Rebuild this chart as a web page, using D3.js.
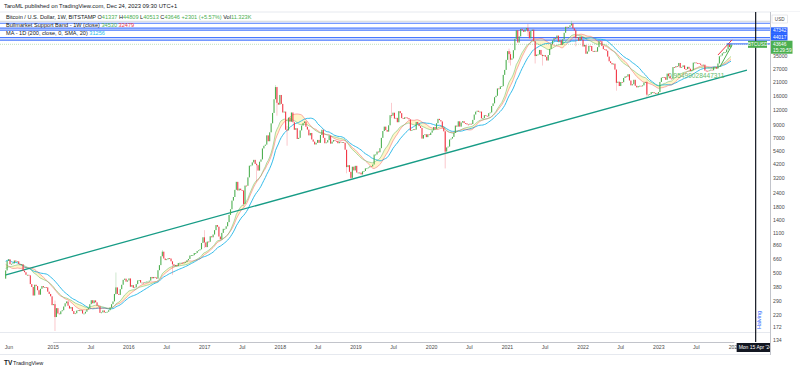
<!DOCTYPE html>
<html>
<head>
<meta charset="utf-8">
<script src="https://cdn.jsdelivr.net/npm/d3@7"></script>
<style>
  body { margin: 0; background: #fff; }
  text { font-family: "Liberation Sans", Arial, sans-serif; }
</style>
</head>
<body>
<div id="chart"></div>
<script>
// Weekly BITSTAMP BTCUSD closes (week start = Monday)
var firstWeek = "2014-05-19";
// weeks before the first drawn candle, only used to warm up the averages
var warmupCloses = [185, 205, 330, 440, 800, 1000, 850, 690, 620, 740, 880, 850, 830, 800, 810,
    680, 630, 600, 560, 630, 630, 580, 470, 450, 450, 500, 460, 435, 440, 445];
var closes2014 = [523, 630, 650, 590, 595, 600, 635, 620, 625, 595, 585, 590, 520, 505, 480, 480,
    475, 400, 378, 320, 395, 385, 355, 325, 365, 385, 375, 378, 375, 345, 330, 315];
var closes2015 = [265, 270, 210, 250, 225, 222, 235, 240, 258, 275, 285, 262, 248, 255, 236, 223,
    226, 238, 240, 236, 240, 225, 225, 233, 244, 251, 270, 292, 275, 291, 280, 262, 260, 228, 230,
    239, 230, 231, 233, 240, 253, 270, 285, 330, 375, 330, 324, 362, 395, 435, 445, 420];
var closes2016 = [430, 447, 380, 392, 372, 375, 400, 430, 433, 412, 412, 410, 416, 420, 420, 428,
    460, 448, 460, 455, 445, 525, 580, 690, 755, 660, 640, 650, 665, 660, 625, 590, 570, 582, 570,
    605, 607, 608, 600, 612, 615, 638, 655, 700, 705, 705, 735, 735, 765, 775, 790, 895];
var closes2017 = [1000, 905, 825, 920, 915, 1020, 1000, 1055, 1150, 1270, 1230, 1015, 960, 1090,
    1180, 1180, 1240, 1345, 1550, 1730, 2050, 2200, 2530, 2960, 2500, 2590, 2520, 2500, 1920, 2750,
    2740, 3230, 4060, 4080, 4330, 4550, 4200, 4100, 3690, 4390, 4590, 5690, 5990, 6130, 7350, 6550,
    7800, 9300, 11400, 14900, 18900, 13900];
var closes2018 = [13400, 16200, 13600, 11500, 11700, 8200, 8100, 10400, 9600, 11500, 9500, 8200,
    8450, 6850, 7000, 8100, 8900, 9350, 9650, 8700, 8230, 7350, 7700, 6780, 6500, 6150, 6350, 6720,
    6350, 7400, 8200, 7000, 6300, 6400, 6700, 7300, 6250, 6500, 6700, 6600, 6580, 6300, 6500, 6450,
    6450, 6350, 5550, 3950, 4100, 3600, 3200, 3980];
var closes2019 = [3700, 4050, 3550, 3550, 3540, 3420, 3630, 3660, 3850, 3860, 3920, 4010, 4000,
    4150, 5050, 5050, 5350, 5280, 5720, 7000, 8000, 8720, 8150, 7900, 8950, 10900, 10800, 11450,
    10200, 10350, 9500, 11800, 11350, 10300, 10150, 10450, 10400, 10300, 10050, 8050, 8150, 8280,
    8220, 9550, 9200, 8800, 8500, 6900, 7400, 7500, 7100, 7500];
var closes2020 = [7400, 7750, 8100, 8650, 8350, 9320, 10150, 9900, 9650, 8550, 7950, 5350, 5800,
    5900, 6780, 6900, 7130, 7700, 8900, 8720, 9680, 8720, 9450, 9700, 9350, 9300, 9100, 9070, 9230,
    9170, 9950, 11050, 11680, 11900, 11650, 11700, 10250, 10300, 10900, 10770, 10650, 11350, 11500,
    13050, 13750, 15500, 15950, 18400, 18200, 19150, 19250, 24000, 26450];
var closes2021 = [32200, 38200, 36000, 32300, 33100, 38900, 48600, 57500, 45200, 51000, 59000,
    57400, 55800, 58200, 60000, 56200, 49100, 56700, 58200, 46500, 34700, 35700, 35800, 39100, 35500,
    34700, 35300, 34200, 31800, 35400, 39900, 43800, 47000, 49300, 48800, 51800, 46000, 47300, 43200,
    48200, 54700, 61500, 61000, 61300, 63300, 65500, 59700, 57200, 49400, 50100, 46700, 50800];
var closes2022 = [47700, 41800, 43100, 36300, 37900, 42400, 42200, 38300, 37700, 38400, 37800,
    41300, 46800, 46400, 42200, 39700, 39500, 38500, 34300, 31300, 30300, 29450, 29900, 26600, 20550,
    21000, 19300, 20850, 20800, 22600, 23300, 23200, 24300, 21500, 19550, 19990, 21800, 19400, 18800,
    19300, 19400, 19200, 19550, 20600, 20900, 16300, 16300, 16450, 17100, 17100, 16750, 16850];
var closes2023 = [16600, 17150, 20900, 22700, 23000, 22900, 21800, 24600, 23500, 22350, 22200,
    27950, 27750, 28450, 28350, 30300, 27600, 28050, 28900, 26900, 26850, 28100, 27100, 25900, 26350,
    30500, 30600, 30300, 30250, 29900, 29250, 29050, 29300, 26100, 26000, 25850, 26200, 26550, 26250,
    27950, 27950, 27150, 30000, 34550, 35050, 36600, 37400, 37450, 39450, 43800, 41337, 43646];

// the few weeks with a visible wick: [week, high, low]
var wicks = [
    ["2015-01-12", 290, 160], ["2015-11-02", 502, 325], ["2016-06-13", 780, 690],
    ["2016-08-01", 615, 480], ["2017-01-02", 1150, 810], ["2017-07-10", 2400, 1830],
    ["2017-09-11", 4300, 2970], ["2017-12-11", 19666, 15800], ["2017-12-18", 19000, 10800],
    ["2018-02-05", 8800, 6000], ["2018-11-19", 5100, 3500], ["2018-12-10", 3600, 3120],
    ["2019-06-24", 13880, 10300], ["2020-03-09", 8000, 3850], ["2021-01-11", 40100, 30400],
    ["2021-01-18", 37800, 28850], ["2021-04-12", 64900, 51300], ["2021-05-17", 45000, 30000],
    ["2021-06-21", 35700, 28800], ["2021-11-08", 69000, 62300], ["2021-11-29", 59000, 42000],
    ["2022-06-13", 26800, 17600], ["2022-11-07", 21450, 15500], ["2023-12-18", 44809, 40513]
];

// drawn horizontal levels, trend line and halving marker
var levelPrices = [65900, 60000, 57700, 49700, 47342];
var athPrice = 68500;
var shortLevel = { from: "2023-11-27", price: 44017 };
var trendStart = { date: "2014-05-16", price: 478 };
var trendEnd = { date: "2024-03-04", price: 26400 };
var trendText = "0.95499028447311";
var redRay = [["2023-10-16", 35400], ["2023-12-23", 47600]];
var greenRay = [["2023-10-25", 28000], ["2023-12-23", 43000]];
var halvingDate = "2024-04-15";

// axis ticks
var priceTicks = [35000, 27000, 21000, 16000, 12000, 9000, 7000, 5400, 4200, 3200, 2400, 1800,
    1400, 1100, 860, 660, 500, 380, 290, 220, 172, 134];
var timeTickDates = ["2014-06-01", "2015-01-01", "2015-07-01", "2016-01-01", "2016-07-01",
    "2017-01-01", "2017-07-01", "2018-01-01", "2018-07-01", "2019-01-01", "2019-07-01",
    "2020-01-01", "2020-07-01", "2021-01-01", "2021-07-01", "2022-01-01", "2022-07-01",
    "2023-01-01", "2023-07-01", "2024-01-01"];
var timeTickLabels = ["Jun", "2015", "Jul", "2016", "Jul", "2017", "Jul", "2018", "Jul", "2019",
    "Jul", "2020", "Jul", "2021", "Jul", "2022", "Jul", "2023", "Jul", "2024"];

// legend values
var legendOHLC = { o: "41337", h: "44809", l: "40513", c: "43646", chg: "+2301 (+5.57%)", vol: "11.323K" };
var bandValues = ["34530", "32479"];
var maValue = "31256";

// Set up the svg params
var svgWidth = 800, svgHeight = 370;
var plotLeft = 0, plotRight = 770, plotTop = 12, plotBottom = 342;

var upColor = "#4caf50", downColor = "#f23645", cyan = "#29b8e8", blue = "#2962ff";

var parseDate = d3.utcParse("%Y-%m-%d");
var fmt = d3.utcFormat("%Y-%m-%d");

var svg = d3.select("#chart").append("svg")
    .attr("width", svgWidth)
    .attr("height", svgHeight);

svg.append("rect").attr("width", svgWidth).attr("height", svgHeight).attr("fill", "#fff");

// scales: time across, log price down
var xScale = d3.scaleUtc()
    .domain([parseDate("2015-01-01"), parseDate("2024-01-01")])
    .range([52.7, 733.9]);
var yScale = d3.scaleLog()
    .domain([134, 16000])
    .range([340, 95.6]);

// Build the candles
var allCloses = warmupCloses.concat(closes2014, closes2015, closes2016, closes2017, closes2018,
    closes2019, closes2020, closes2021, closes2022, closes2023);
var nWarm = warmupCloses.length;
var start = parseDate(firstWeek);
var wickMap = {};
wicks.forEach(w => { wickMap[w[0]] = w; });

function sma(values, n) {
    return values.map((v, i) => i < n - 1 ? null : d3.mean(values.slice(i - n + 1, i + 1)));
}
function ema(values, n) {
    var k = 2 / (n + 1), prev = null;
    return values.map((v, i) => {
        if (i < n - 1) return null;
        prev = (i === n - 1) ? d3.mean(values.slice(0, n)) : v * k + prev * (1 - k);
        return prev;
    });
}
var sma20 = sma(allCloses, 20);
var ema21 = ema(allCloses, 21);
var ma200d = sma(allCloses, 29);

var candles = [];
for (var i = nWarm; i < allCloses.length; i++) {
    var date = d3.utcDay.offset(start, (i - nWarm) * 7);
    var open = allCloses[i - 1], close = allCloses[i];
    var w = wickMap[fmt(date)];
    candles.push({
        date: date,
        open: open,
        close: close,
        high: w ? w[1] : Math.max(open, close),
        low: w ? w[2] : Math.min(open, close),
        sma20: sma20[i],
        ema21: ema21[i],
        ma200: ma200d[i]
    });
}

// clip to the price pane
svg.append("clipPath").attr("id", "pane")
    .append("rect")
    .attr("x", plotLeft).attr("y", plotTop)
    .attr("width", plotRight - plotLeft).attr("height", plotBottom - plotTop);

var pane = svg.append("g").attr("clip-path", "url(#pane)");

// pane borders
svg.append("line").attr("x1", 0).attr("x2", svgWidth).attr("y1", plotTop).attr("y2", plotTop)
    .attr("stroke", "#e0e3eb").attr("stroke-width", 0.8);
svg.append("line").attr("x1", 0).attr("x2", plotRight).attr("y1", 332.5).attr("y2", 332.5)
    .attr("stroke", "#e0e3eb").attr("stroke-width", 0.8);

// horizontal levels
pane.append("line")
    .attr("x1", plotLeft).attr("x2", plotRight)
    .attr("y1", yScale(athPrice)).attr("y2", yScale(athPrice))
    .attr("stroke", "#c8cbd3").attr("stroke-width", 0.8);

pane.selectAll(".level")
    .data(levelPrices)
    .enter()
    .append("line")
    .attr("class", "level")
    .attr("x1", plotLeft).attr("x2", plotRight)
    .attr("y1", d => yScale(d)).attr("y2", d => yScale(d))
    .attr("stroke", blue).attr("stroke-width", 1.2).attr("opacity", 0.85);

// bull market support band
var band = d3.area()
    .defined(d => d.sma20 != null && d.ema21 != null)
    .x(d => xScale(d.date))
    .y0(d => yScale(d.sma20))
    .y1(d => yScale(d.ema21));
pane.append("path").datum(candles)
    .attr("d", band)
    .attr("fill", "#ffe98a").attr("opacity", 0.45);

function maLine(key) {
    return d3.line().defined(d => d[key] != null)
        .x(d => xScale(d.date)).y(d => yScale(d[key]));
}
pane.append("path").datum(candles).attr("d", maLine("ma200"))
    .attr("fill", "none").attr("stroke", cyan).attr("stroke-width", 0.95);
pane.append("path").datum(candles).attr("d", maLine("sma20"))
    .attr("fill", "none").attr("stroke", downColor).attr("stroke-width", 0.9).attr("opacity", 0.45);
pane.append("path").datum(candles).attr("d", maLine("ema21"))
    .attr("fill", "none").attr("stroke", upColor).attr("stroke-width", 0.9).attr("opacity", 0.5);

// long trend line
pane.append("line")
    .attr("x1", xScale(parseDate(trendStart.date))).attr("y1", yScale(trendStart.price))
    .attr("x2", xScale(parseDate(trendEnd.date))).attr("y2", yScale(trendEnd.price))
    .attr("stroke", "#179c86").attr("stroke-width", 1.3);

pane.append("text")
    .attr("x", 668).attr("y", 77.5)
    .attr("font-size", 6.6)
    .attr("fill", "#66bb6a")
    .text(trendText);

// candles
var candleGroup = pane.append("g");
candleGroup.selectAll(".wick")
    .data(candles.filter(d => d.high > Math.max(d.open, d.close) || d.low < Math.min(d.open, d.close)))
    .enter()
    .append("line")
    .attr("class", "wick")
    .attr("x1", d => xScale(d.date)).attr("x2", d => xScale(d.date))
    .attr("y1", d => yScale(d.high)).attr("y2", d => yScale(d.low))
    .attr("stroke", d => d.close >= d.open ? upColor : downColor)
    .attr("stroke-width", 0.6).attr("opacity", 0.45);

candleGroup.selectAll(".body")
    .data(candles)
    .enter()
    .append("rect")
    .attr("class", "body")
    .attr("x", d => xScale(d.date) - 0.55)
    .attr("width", 1.1)
    .attr("y", d => yScale(Math.max(d.open, d.close)))
    .attr("height", d => Math.max(0.8, yScale(Math.min(d.open, d.close)) - yScale(Math.max(d.open, d.close))))
    .attr("fill", d => d.close >= d.open ? upColor : downColor);

// channel rays at the right end
[[redRay, downColor], [greenRay, upColor]].forEach(r => {
    pane.append("line")
        .attr("x1", xScale(parseDate(r[0][0][0]))).attr("y1", yScale(r[0][0][1]))
        .attr("x2", xScale(parseDate(r[0][1][0]))).attr("y2", yScale(r[0][1][1]))
        .attr("stroke", r[1]).attr("stroke-width", 1);
});

// last price line and short level
var last = candles[candles.length - 1];
pane.append("line")
    .attr("x1", plotLeft).attr("x2", plotRight)
    .attr("y1", yScale(last.close)).attr("y2", yScale(last.close))
    .attr("stroke", upColor).attr("stroke-width", 0.7).attr("stroke-dasharray", "1,1").attr("opacity", 0.5);
pane.append("line")
    .attr("x1", xScale(parseDate(shortLevel.from))).attr("x2", plotRight)
    .attr("y1", yScale(shortLevel.price)).attr("y2", yScale(shortLevel.price))
    .attr("stroke", blue).attr("stroke-width", 1.2).attr("opacity", 0.8);

// halving marker
var halvingX = xScale(parseDate(halvingDate));
svg.append("line")
    .attr("x1", halvingX).attr("x2", halvingX)
    .attr("y1", plotTop).attr("y2", plotBottom)
    .attr("stroke", "#131722").attr("stroke-width", 1.2);
svg.append("text")
    .attr("transform", `translate(${halvingX + 5}, 320) rotate(-90)`)
    .attr("text-anchor", "middle")
    .attr("font-size", 5.4)
    .attr("fill", blue)
    .text("Halving");

// symbol label on the chart
var lastY = yScale(last.close);
svg.append("rect")
    .attr("x", 748).attr("y", lastY - 3.5).attr("width", 19).attr("height", 7)
    .attr("fill", upColor);
svg.append("text")
    .attr("x", 757.5).attr("y", lastY + 1.8)
    .attr("text-anchor", "middle").attr("font-size", 4.8).attr("fill", "#fff")
    .text("BTCUSD");

// header and legend
svg.append("text")
    .attr("x", 4).attr("y", 7.5)
    .attr("font-size", 5.8).attr("fill", "#131722")
    .text("TaroML published on TradingView.com, Dec 24, 2023 09:30 UTC+1");

var legend = svg.append("g").attr("font-size", 5.6).attr("fill", "#131722");
var l1 = legend.append("text").attr("x", 6).attr("y", 18.5);
l1.append("tspan").text("Bitcoin / U.S. Dollar, 1W, BITSTAMP  O");
l1.append("tspan").attr("fill", upColor).text(legendOHLC.o);
l1.append("tspan").text("  H");
l1.append("tspan").attr("fill", upColor).text(legendOHLC.h);
l1.append("tspan").text("  L");
l1.append("tspan").attr("fill", upColor).text(legendOHLC.l);
l1.append("tspan").text("  C");
l1.append("tspan").attr("fill", upColor).text(legendOHLC.c + "  " + legendOHLC.chg);
l1.append("tspan").text("  Vol");
l1.append("tspan").attr("fill", upColor).text(legendOHLC.vol);

var l2 = legend.append("text").attr("x", 6).attr("y", 27);
l2.append("tspan").text("Bullmarket Support Band - 1W (close)  ");
l2.append("tspan").attr("fill", upColor).text(bandValues[0]);
l2.append("tspan").text("  ");
l2.append("tspan").attr("fill", downColor).text(bandValues[1]);

var l3 = legend.append("text").attr("x", 6).attr("y", 34.5);
l3.append("tspan").text("MA - 1D (200, close, 0, SMA, 20)  ");
l3.append("tspan").attr("fill", cyan).text(maValue);

// bottom time axis
svg.append("rect").attr("x", 0).attr("y", plotBottom).attr("width", svgWidth).attr("height", 12)
    .attr("fill", "#fff");
var bottomAxis = d3.axisBottom(xScale)
    .tickValues(timeTickDates.map(parseDate))
    .tickFormat((d, i) => timeTickLabels[i])
    .tickSize(0)
    .tickPadding(3);
var xAxis = svg.append("g")
    .attr("transform", `translate(0, ${plotBottom})`)
    .call(bottomAxis);
xAxis.select(".domain").attr("stroke", "#b2b5be").attr("stroke-width", 0.8);
xAxis.selectAll("text").attr("font-size", 5.2).attr("fill", "#4a4a4a")
    .attr("font-family", "Liberation Sans, Arial, sans-serif");
svg.append("line").attr("x1", 0).attr("x2", svgWidth).attr("y1", 354.5).attr("y2", 354.5)
    .attr("stroke", "#e0e3eb").attr("stroke-width", 0.8);

// date label of the halving line
svg.append("rect")
    .attr("x", halvingX - 19).attr("y", plotBottom + 1).attr("width", 38).attr("height", 9)
    .attr("fill", "#131722");
svg.append("text")
    .attr("x", halvingX - 17).attr("y", plotBottom + 7.3)
    .attr("font-size", 5).attr("fill", "#fff")
    .text("Mon 15 Apr '24");

// right price axis
svg.append("rect").attr("x", plotRight).attr("y", plotTop).attr("width", svgWidth - plotRight)
    .attr("height", 355 - plotTop).attr("fill", "#fff");
svg.append("line").attr("x1", plotRight + 0.5).attr("x2", plotRight + 0.5)
    .attr("y1", plotTop).attr("y2", 355)
    .attr("stroke", "#b2b5be").attr("stroke-width", 0.8);

var rightAxis = d3.axisRight(yScale)
    .tickValues(priceTicks)
    .tickFormat(d3.format("d"))
    .tickSize(0)
    .tickPadding(3);
var yAxis = svg.append("g")
    .attr("transform", `translate(${plotRight}, 0)`)
    .call(rightAxis);
yAxis.select(".domain").remove();
yAxis.selectAll("text").attr("font-size", 5.2).attr("fill", "#4a4a4a")
    .attr("font-family", "Liberation Sans, Arial, sans-serif");

// currency box
svg.append("rect").attr("x", 772).attr("y", 15).attr("width", 15.5).attr("height", 8)
    .attr("fill", "#fff").attr("stroke", "#d1d4dc").attr("stroke-width", 0.5);
svg.append("text").attr("x", 779.7).attr("y", 20.8).attr("text-anchor", "middle")
    .attr("font-size", 4.6).attr("fill", "#4a4a4a").text("USD");

// price labels stacked above the last price
var priceTags = [
    { text: "47342", top: lastY - 17, h: 6.6, color: blue },
    { text: "44017", top: lastY - 10.4, h: 6.6, color: blue }
];
priceTags.forEach(t => {
    svg.append("rect").attr("x", 771).attr("y", t.top).attr("width", 16.5).attr("height", t.h)
        .attr("fill", t.color);
    svg.append("text").attr("x", 773).attr("y", t.top + 4.9)
        .attr("font-size", 4.8).attr("fill", "#fff").text(t.text);
});
svg.append("rect").attr("x", 771).attr("y", lastY - 3.6).attr("width", 21.5).attr("height", 13)
    .attr("fill", upColor);
svg.append("text").attr("x", 773).attr("y", lastY + 1.6)
    .attr("font-size", 4.8).attr("fill", "#fff").text(last.close);
svg.append("text").attr("x", 773).attr("y", lastY + 7.6)
    .attr("font-size", 4.8).attr("fill", "#fff").text("15:29:59");

// footer
svg.append("text").attr("x", 4).attr("y", 364.5)
    .attr("font-size", 6.5).attr("font-weight", "bold").attr("fill", "#131722").text("TV");
svg.append("text").attr("x", 13).attr("y", 364.5)
    .attr("font-size", 5.5).attr("fill", "#131722").text("TradingView");
</script>
</body>
</html>
